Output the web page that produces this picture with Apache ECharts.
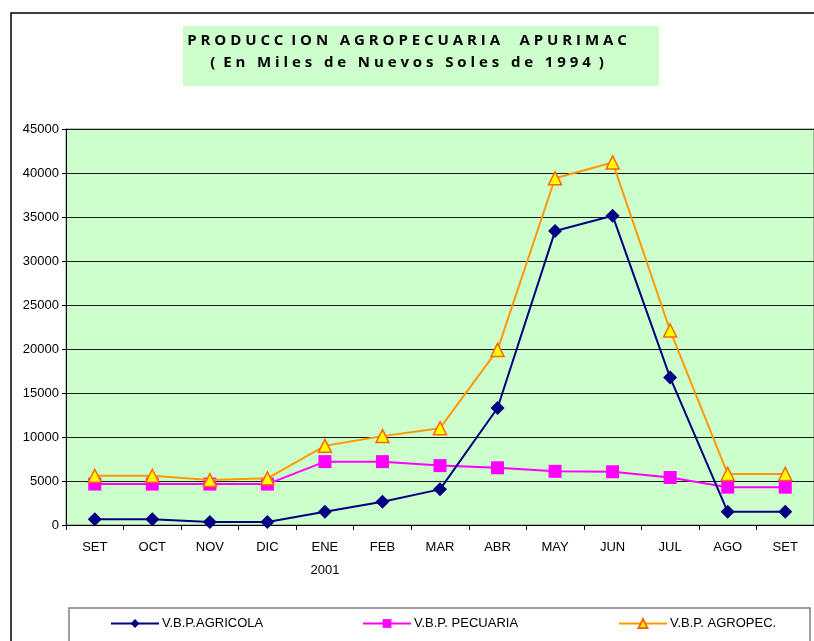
<!DOCTYPE html>
<html>
<head>
<meta charset="utf-8">
<script src="https://cdn.jsdelivr.net/npm/echarts@6/dist/echarts.min.js"></script>
<style>html,body{margin:0;padding:0;background:#fff;}#c{width:814px;height:641px;}</style>
</head>
<body>
<div id="c"></div>
<script>
const categories = ['SET', 'OCT', 'NOV', 'DIC', 'ENE\n2001', 'FEB', 'MAR', 'ABR', 'MAY', 'JUN', 'JUL', 'AGO', 'SET'];
const agricola = [650, 650, 350, 350, 1500, 2650, 4050, 13300, 33400, 35150, 16750, 1500, 1500];
const pecuaria = [4650, 4650, 4650, 4650, 7200, 7200, 6750, 6500, 6100, 6050, 5400, 4300, 4300];
const agropec = [5600, 5600, 5100, 5300, 9000, 10100, 11000, 19900, 39400, 41200, 22100, 5800, 5800];
const seriesNames = ['V.B.P.AGRICOLA', 'V.B.P. PECUARIA', 'V.B.P. AGROPEC.'];
const titleLine1 = 'P R O D U C C  I O N   A G R O P E C U A R I A     A P U R I M A C';
const titleLine2 = '(  E n   M i l e s   d e   N u e v o s   S o l e s   d e   1 9 9 4  )';

const chart = echarts.init(document.getElementById('c'), null, {renderer: 'canvas'});
const axisFont = {fontFamily: 'Liberation Sans', fontSize: 13, color: '#000'};
function legendAt(name, left) {
  return {
    data: [name], left: left, top: 612, orient: 'horizontal',
    itemWidth: 48, itemHeight: 11, itemGap: 6,
    textStyle: {fontFamily: 'Liberation Sans', fontSize: 13, color: '#000', padding: [0,0,0,-2]},
    selectedMode: false
  };
}
chart.setOption({
  animation: false,
  backgroundColor: '#fff',
  graphic: [
    {type: 'rect', z: -10, shape: {x: 11, y: 13, width: 830, height: 660}, style: {fill: '#fff', stroke: '#000', lineWidth: 1.5}},
    {type: 'rect', z: -5, shape: {x: 183, y: 26, width: 476, height: 60}, style: {fill: '#ccffcc'}},
    {type: 'text', z: 10, left: 'center', top: 33, style: {text: titleLine1, font: 'bold 15px "Open Sans"', fill: '#000', textAlign: 'center'}},
    {type: 'text', z: 10, left: 'center', top: 55, style: {text: titleLine2, font: 'bold 15px "Open Sans"', fill: '#000', textAlign: 'center'}},
    {type: 'rect', z: -5, shape: {x: 69, y: 608, width: 741, height: 50}, style: {fill: '#fff', stroke: '#808080', lineWidth: 1.5}}
  ],
  legend: [legendAt(seriesNames[0], 105), legendAt(seriesNames[1], 357), legendAt(seriesNames[2], 613)],
  grid: {left: 66, top: 129, width: 754, height: 396, show: true, backgroundColor: '#ccffcc', borderColor: '#808080', borderWidth: 1},
  xAxis: {
    type: 'category', data: categories, boundaryGap: true,
    axisLine: {lineStyle: {color: '#000', width: 1}},
    axisTick: {show: true, length: 5, alignWithLabel: false, lineStyle: {color: '#000'}},
    axisLabel: Object.assign({margin: 11, lineHeight: 23, interval: 0}, axisFont),
    splitLine: {show: false}
  },
  yAxis: {
    type: 'value', min: 0, max: 45000, interval: 5000,
    axisLine: {show: true, lineStyle: {color: '#000', width: 1}},
    axisTick: {show: true, length: 4, lineStyle: {color: '#000'}},
    axisLabel: Object.assign({margin: 7, formatter: function (v) { return String(v); }}, axisFont),
    splitLine: {show: true, lineStyle: {color: '#1a1a1a', width: 1}}
  },
  series: [
    {name: seriesNames[0], type: 'line', data: agricola, symbol: 'diamond', symbolSize: 14,
     lineStyle: {color: '#000080', width: 2}, itemStyle: {color: '#000080'}, z: 3},
    {name: seriesNames[1], type: 'line', data: pecuaria, symbol: 'rect', symbolSize: 13,
     lineStyle: {color: '#ff00ff', width: 2}, itemStyle: {color: '#ff00ff'}, z: 2},
    {name: seriesNames[2], type: 'line', data: agropec, symbol: 'triangle', symbolSize: 13,
     lineStyle: {color: '#ff9900', width: 2}, itemStyle: {color: '#ffff00', borderColor: '#ff6600', borderWidth: 1.5}, z: 4}
  ]
});
</script>
</body>
</html>
